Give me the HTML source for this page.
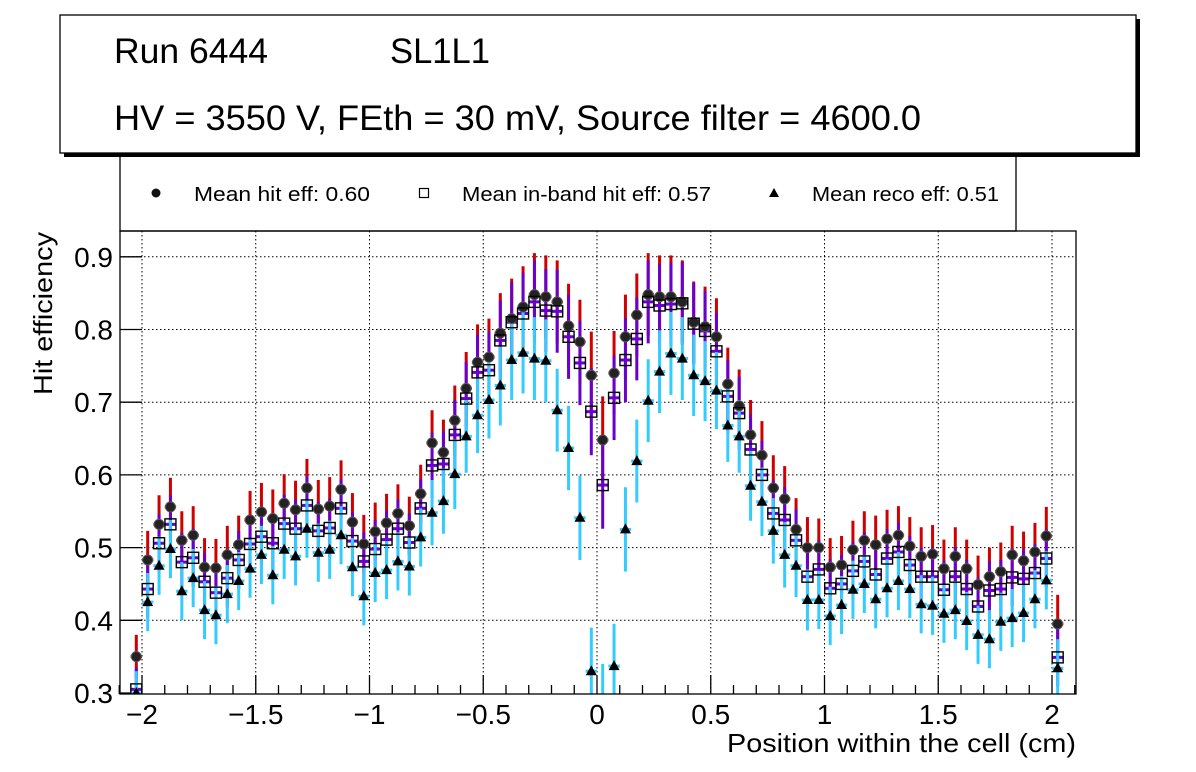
<!DOCTYPE html>
<html><head><meta charset="utf-8"><style>
html,body{margin:0;padding:0;background:#fff;}
svg{display:block;font-family:"Liberation Sans",Arial,sans-serif;}
</style></head><body>
<svg id="chart" width="1196" height="772" viewBox="0 0 1196 772" xmlns="http://www.w3.org/2000/svg">
<defs><clipPath id="pc"><rect x="120" y="231" width="956" height="463"/></clipPath></defs>
<rect x="0" y="0" width="1196" height="772" fill="#fff"/>
<g>
<rect x="120" y="140" width="896" height="91" fill="#fff" stroke="#000" stroke-width="1.3"/>
<g><circle cx="156" cy="193" r="4.5" fill="#111"/><text x="194" y="201" font-size="20" textLength="176" lengthAdjust="spacingAndGlyphs">Mean hit  eff: 0.60</text></g>
<g><rect x="419.5" y="188.5" width="9" height="9" fill="#fff" stroke="#000" stroke-width="1.2"/><text x="462" y="201" font-size="20" textLength="249" lengthAdjust="spacingAndGlyphs">Mean in-band hit eff: 0.57</text></g>
<g><polygon points="774,188 779,197 769,197" fill="#000"/><text x="812" y="201" font-size="20" textLength="187" lengthAdjust="spacingAndGlyphs">Mean reco eff: 0.51</text></g>
</g>
<g>
<rect x="64" y="19" width="1076" height="138" fill="#000"/>
<rect x="60" y="15" width="1076" height="138" fill="#fff" stroke="#000" stroke-width="1.3"/>
<text x="114" y="63" font-size="35" textLength="154" lengthAdjust="spacingAndGlyphs">Run 6444</text>
<text x="390" y="63" font-size="35" textLength="100" lengthAdjust="spacingAndGlyphs">SL1L1</text>
<text x="114" y="130" font-size="35" textLength="807" lengthAdjust="spacingAndGlyphs">HV = 3550 V, FEth = 30 mV, Source filter = 4600.0</text>
</g>
<g id="grid"></g>
<g id="axes"></g>
<g id="marks" clip-path="url(#pc)"></g>
<rect x="120" y="231" width="956" height="463" fill="none" stroke="#000" stroke-width="1.3"/>
<text x="727" y="752" font-size="26" textLength="349" lengthAdjust="spacingAndGlyphs">Position within the cell (cm)</text>
<text transform="translate(52,395) rotate(-90)" font-size="26" textLength="163" lengthAdjust="spacingAndGlyphs">Hit efficiency</text>
</svg>
<script>
const hitEff = [0.35,0.483,0.532,0.556,0.51,0.517,0.473,0.472,0.49,0.504,0.538,0.549,0.54,0.561,0.552,0.582,0.553,0.557,0.58,0.535,0.505,0.522,0.534,0.547,0.53,0.574,0.644,0.631,0.675,0.719,0.755,0.762,0.795,0.815,0.831,0.848,0.845,0.838,0.805,0.783,0.737,0.648,0.74,0.79,0.82,0.848,0.845,0.845,0.838,0.81,0.804,0.79,0.725,0.695,0.655,0.627,0.582,0.567,0.525,0.50,0.50,0.473,0.476,0.497,0.510,0.504,0.512,0.517,0.502,0.488,0.491,0.471,0.488,0.471,0.449,0.46,0.467,0.49,0.482,0.494,0.516,0.395];
const inbandEff = [0.305,0.443,0.506,0.532,0.48,0.486,0.453,0.438,0.458,0.483,0.505,0.515,0.506,0.533,0.526,0.558,0.523,0.527,0.554,0.509,0.481,0.498,0.511,0.526,0.507,0.554,0.613,0.615,0.655,0.705,0.741,0.744,0.785,0.81,0.822,0.838,0.826,0.825,0.79,0.754,0.687,0.586,0.706,0.758,0.787,0.838,0.833,0.835,0.836,0.808,0.798,0.77,0.708,0.685,0.635,0.60,0.547,0.538,0.51,0.46,0.47,0.444,0.450,0.468,0.481,0.463,0.485,0.494,0.476,0.46,0.46,0.442,0.46,0.443,0.419,0.441,0.443,0.459,0.457,0.465,0.485,0.349];
const recoEff = [0.30,0.425,0.475,0.498,0.44,0.458,0.414,0.407,0.436,0.454,0.471,0.49,0.462,0.497,0.488,0.526,0.493,0.497,0.517,0.473,0.433,0.465,0.469,0.481,0.474,0.514,0.548,0.564,0.601,0.653,0.682,0.703,0.723,0.758,0.768,0.76,0.757,0.689,0.637,0.541,0.33,0.28,0.337,0.525,0.619,0.702,0.742,0.767,0.76,0.737,0.729,0.716,0.668,0.653,0.585,0.563,0.523,0.49,0.475,0.428,0.428,0.406,0.421,0.442,0.45,0.429,0.444,0.454,0.443,0.422,0.42,0.409,0.414,0.399,0.38,0.374,0.398,0.403,0.41,0.429,0.455,0.334];
const effErr = [0.03,0.04,0.04,0.04,0.04,0.04,0.04,0.04,0.04,0.04,0.04,0.04,0.04,0.04,0.04,0.04,0.04,0.04,0.04,0.04,0.04,0.04,0.04,0.04,0.04,0.04,0.045,0.045,0.048,0.05,0.052,0.053,0.055,0.055,0.056,0.057,0.057,0.057,0.058,0.058,0.06,0.06,0.058,0.058,0.057,0.057,0.057,0.057,0.057,0.056,0.055,0.053,0.05,0.05,0.048,0.047,0.045,0.045,0.043,0.042,0.04,0.04,0.04,0.04,0.04,0.04,0.04,0.04,0.04,0.04,0.04,0.04,0.04,0.04,0.04,0.04,0.04,0.04,0.04,0.04,0.04,0.04];
const binStart = -2.025, binWidth = 0.05;
const xTickLabels = ["\u22122","\u22121.5","\u22121","\u22120.5","0","0.5","1","1.5","2"];
const xTickValues = [-2,-1.5,-1,-0.5,0,0.5,1,1.5,2];
const yTickLabels = ["0.3","0.4","0.5","0.6","0.7","0.8","0.9"];
const yTickValues = [0.3,0.4,0.5,0.6,0.7,0.8,0.9];

const NS="http://www.w3.org/2000/svg";
function X(v){return 597+v*227.5;}
function Y(v){return 693-(v-0.3)*727;}
function mk(tag,attrs,parent){const e=document.createElementNS(NS,tag);for(const k in attrs)e.setAttribute(k,attrs[k]);parent.appendChild(e);return e;}
const grid=document.getElementById('grid'),axes=document.getElementById('axes'),marks=document.getElementById('marks');

xTickValues.forEach((v,i)=>{
  const g=mk('line',{x1:X(v),x2:X(v),y1:231,y2:694,stroke:'#000','stroke-width':1,'stroke-dasharray':'1.5,2.5'},grid);
  
  
  const t=mk('line',{x1:X(v),x2:X(v),y1:694,y2:675,stroke:'#000','stroke-width':1.3},axes);
  
  
  const l=mk('text',{x:X(v),y:724,'font-size':28,'text-anchor':'middle'},axes);
  l.textContent=xTickLabels[i];
  
  
});
for(let k=-21;k<=21;k++){
  if(k%5===0)continue;
  const t=mk('line',{x1:X(k/10),x2:X(k/10),y1:694,y2:685,stroke:'#000','stroke-width':1.3},axes);
  
  
}
yTickValues.forEach((v,i)=>{
  if(i>0){
    const g=mk('line',{x1:120,x2:1076,y1:Y(v),y2:Y(v),stroke:'#000','stroke-width':1,'stroke-dasharray':'1.5,2.5'},grid);
    
    
  }
  const t=mk('line',{x1:120,x2:142,y1:Y(v),y2:Y(v),stroke:'#000','stroke-width':1.3},axes);
  
  
  const l=mk('text',{x:113,y:Y(v)+10,'font-size':28,'text-anchor':'end'},axes);
  l.textContent=yTickLabels[i];
  
  
});

const hw=binWidth/2*227.5;
function bars(vals,color,name){
  vals.forEach((v,i)=>{
    const cx=X(binStart+i*binWidth),e=effErr[i];
    const b=mk('line',{x1:cx,x2:cx,y1:Y(v+e),y2:Y(v-e),stroke:color,'stroke-width':3},marks);
    
    
    const h=mk('line',{x1:cx-hw,x2:cx+hw,y1:Y(v),y2:Y(v),stroke:color,'stroke-width':3},marks);
    
    
  });
}
bars(hitEff,'#d00000','hit');
bars(inbandEff,'#6a00cc','inband');
bars(recoEff,'#33ccff','reco');
hitEff.forEach((v,i)=>{
  const c=mk('circle',{cx:X(binStart+i*binWidth),cy:Y(v),r:5,fill:'#222',stroke:'#555','stroke-width':1},marks);
  
  
});
inbandEff.forEach((v,i)=>{
  const cx=X(binStart+i*binWidth),cy=Y(v);
  const r=mk('rect',{x:cx-5.5,y:cy-5.5,width:11,height:11,fill:'none',stroke:'#000','stroke-width':1.4},marks);
  
  
});
recoEff.forEach((v,i)=>{
  const cx=X(binStart+i*binWidth),cy=Y(v);
  const p=mk('polygon',{points:`${cx},${cy-6} ${cx+5.5},${cy+4} ${cx-5.5},${cy+4}`,fill:'#000'},marks);
  
  
});
</script>
</body></html>
